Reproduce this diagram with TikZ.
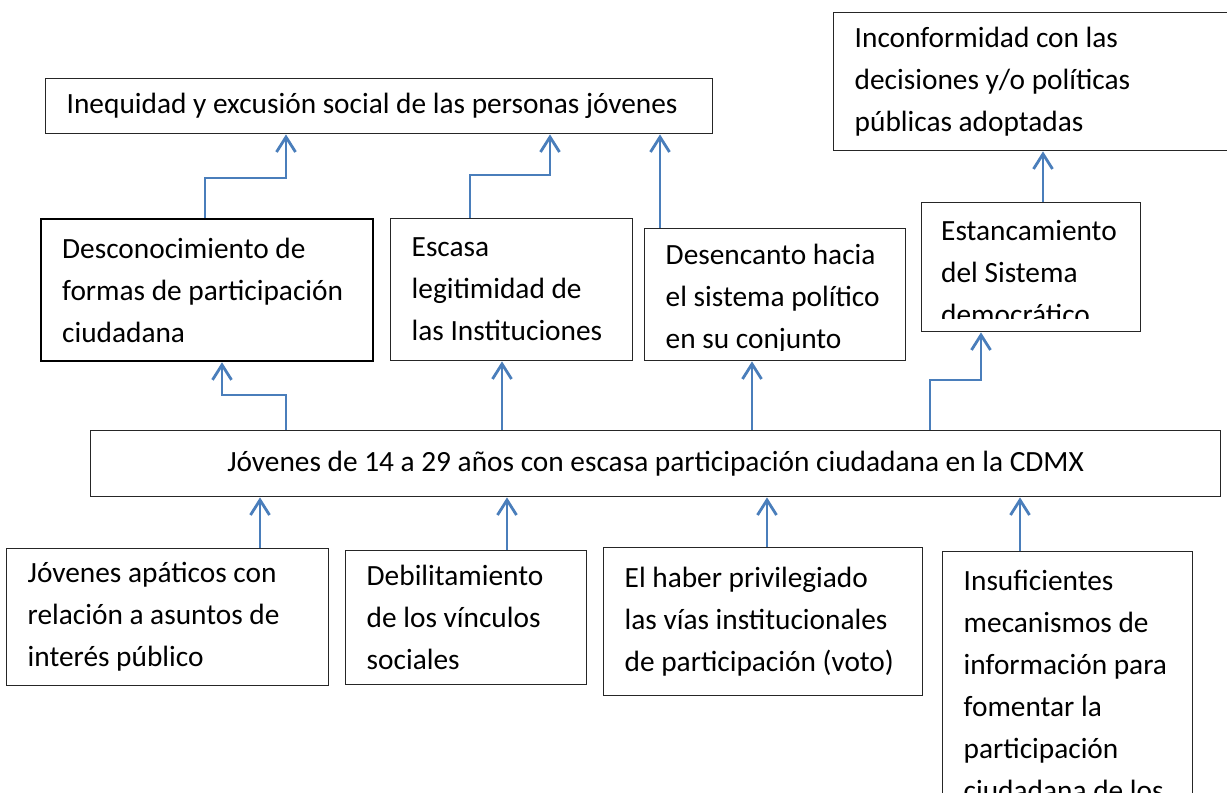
\documentclass[tikz,border=0pt]{standalone}
\usepackage{fontspec}
\setmainfont{Carlito}
\usetikzlibrary{arrows.meta,positioning}
\definecolor{arrowblue}{HTML}{4A7EBB}
\definecolor{boxgray}{HTML}{262626}
\newcommand{\wordgap}{\spaceskip=0.226em plus 0.1em minus 0.05em\relax}

\begin{document}
\begin{tikzpicture}[
  x=0.02cm, y=-0.02cm,
  >={Straight Barb[length=0.3cm,width=0.38cm]},
  cell/.style={rectangle, draw=boxgray, line width=0.8pt, anchor=north west, inner xsep=0.42cm, inner ysep=0pt, font=\fontsize{16.7}{23.9}\selectfont, execute at begin node={\raggedright\wordgap}},
  midcell/.style={cell, execute at begin node={\centering\wordgap}},
  cuttext/.style={anchor=center, inner sep=0pt, font=\fontsize{16.7}{23.9}\selectfont, execute at begin node={\raggedright\wordgap}},
  link/.style={->, draw=arrowblue, line width=1.6pt}
]
  \useasboundingbox (0,0) rectangle (1227,793);

  % effects
  \node[cell, text width=12.5cm, minimum height=1.1cm] (ineq) at (45,78) {Inequidad y excusión social de las personas jóvenes};
  \node[cell, text width=7.3cm, minimum height=2.76cm] (inco) at (833,12) {Inconformidad con las\\decisiones y/o políticas\\públicas adoptadas};
  \node[cell, draw=black, line width=1.3pt, text width=5.8cm, minimum height=2.84cm] (desc) at (40,218) {Desconocimiento de\\formas de participación\\ciudadana};
  \node[cell, text width=4.0cm, minimum height=2.84cm] (esca) at (390,218) {Escasa\\legitimidad de\\las Instituciones};
  \node[cell, text width=4.38cm, minimum height=2.64cm, path picture={
    \clip (path picture bounding box.north west) rectangle ([yshift=0.2cm]path picture bounding box.south east);
    \node[cuttext, text width=4.38cm, yshift=-0.09cm] at (path picture bounding box.center) {Desencanto hacia\\el sistema político\\en su conjunto};
  }] (dese) at (644,228) {};
  \node[cell, inner xsep=0.39cm, text width=3.6cm, minimum height=2.58cm, path picture={
    \clip (path picture bounding box.north west) rectangle ([yshift=0.26cm]path picture bounding box.south east);
    \node[cuttext, text width=3.6cm, yshift=-0.11cm] at (path picture bounding box.center) {Estancamiento\\del Sistema\\democrático};
  }] (esta) at (921,202) {};

  % problem
  \node[midcell, text width=21.76cm, minimum height=1.32cm] (cent) at (90,430) {Jóvenes de 14 a 29 años con escasa participación ciudadana en la CDMX};

  % causes
  \node[cell, text width=5.6cm, minimum height=2.74cm] (jove) at (6,548) {Jóvenes apáticos con\\relación a asuntos de\\interés público};
  \node[cell, text width=3.98cm, minimum height=2.68cm] (debi) at (345,550) {Debilitamiento\\de los vínculos\\sociales};
  \node[cell, text width=5.54cm, minimum height=2.96cm] (habe) at (603,547) {El haber privilegiado\\las vías institucionales\\de participación (voto)};
  \node[cell, text width=4.16cm, minimum height=5.34cm] (insu) at (942,551) {Insuficientes\\mecanismos de\\información para\\fomentar la\\participación\\ciudadana de los};

  % arrows
  \draw[link] (desc.north -| 205,0) -- ++(0,-40) -| (ineq.south -| 286,0);
  \draw[link] (esca.north -| 470,0) -- ++(0,-43) -| (ineq.south -| 550,0);
  \draw[link] (dese.north -| 660,0) -- (ineq.south -| 660,0);
  \draw[link] (esta.north -| 1043,0) -- (inco.south -| 1043,0);
  \draw[link] (cent.north -| 286,0) -- ++(0,-35) -| (desc.south -| 222,0);
  \draw[link] (cent.north -| 502,0) -- (esca.south -| 502,0);
  \draw[link] (cent.north -| 752,0) -- (dese.south -| 752,0);
  \draw[link] (cent.north -| 930,0) -- ++(0,-50) -| (esta.south -| 981,0);
  \draw[link] (jove.north -| 260,0) -- (cent.south -| 260,0);
  \draw[link] (debi.north -| 507,0) -- (cent.south -| 507,0);
  \draw[link] (habe.north -| 767,0) -- (cent.south -| 767,0);
  \draw[link] (insu.north -| 1020,0) -- (cent.south -| 1020,0);
\end{tikzpicture}
\end{document}
